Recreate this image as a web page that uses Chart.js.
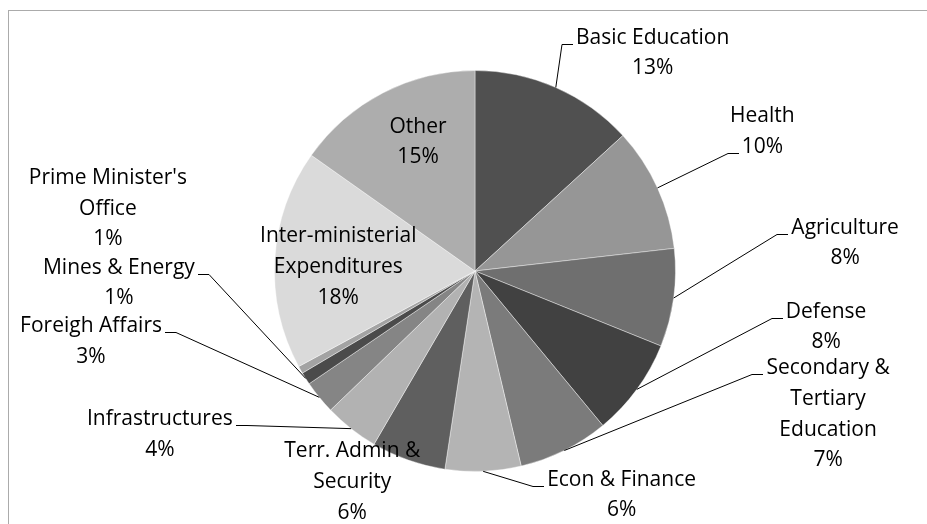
<!DOCTYPE html>
<html lang="en">
<head>
    <meta charset="UTF-8">
    <meta name="viewport" content="width=device-width, initial-scale=1.0">
    <title>Budget by Ministry</title>
    <style>
        body {
            margin: 0;
            padding: 0;
            background-color: #fff;
        }
        .chart-box {
            position: relative;
            width: 927px;
            height: 524px;
        }
    </style>
    <script src="https://cdn.jsdelivr.net/npm/chart.js"></script>
</head>
<body>
    <div class="chart-box">
        <canvas id="pie"></canvas>
    </div>
    <script>
        // slices go clockwise from 12 o'clock
        const categories = [
            'Basic Education', 'Health', 'Agriculture', 'Defense',
            ['Secondary &', 'Tertiary', 'Education'], 'Econ & Finance',
            ['Terr. Admin &', 'Security'], 'Infrastructures', 'Foreigh Affairs',
            'Mines & Energy', ["Prime Minister's", 'Office'],
            ['Inter-ministerial', 'Expenditures'], 'Other'
        ];
        const shares = [13.2, 10.0, 7.9, 7.9, 7.3, 6.1, 6.0, 4.4, 2.7, 1.0, 0.6, 17.7, 15.2];
        const sliceColors = [
            '#505050', '#969696', '#6f6f6f', '#414141', '#7b7b7b', '#b4b4b4',
            '#5f5f5f', '#b2b2b2', '#858585', '#4b4b4b', '#a3a3a3', '#dadada', '#adadad'
        ];

        // where each label sits, in pie radii from the centre:
        // [x, y, draw leader line, which text line the leader joins]
        const labelPlacement = [
            [0.886, -1.087, true, 0],
            [1.433, -0.697, true, 1],
            [1.846, -0.139, true, 0],
            [1.751, 0.279, true, 0],
            [1.761, 0.715, true, 0],
            [0.731, 1.117, true, 0],
            [-0.612, 1.052, false, 0],
            [-1.572, 0.816, true, 0],
            [-1.915, 0.351, true, 0],
            [-1.776, 0.060, true, 0],
            [-1.831, -0.311, false, 0],
            [-0.682, -0.020, false, 0],
            [-0.284, -0.643, false, 0]
        ];

        const LINE_H = 30.7;

        const pieLabels = {
            id: 'pieLabels',
            beforeDraw(chart) {
                // light frame round the plot
                const ctx = chart.ctx;
                ctx.save();
                ctx.strokeStyle = '#ababab';
                ctx.lineWidth = 1;
                ctx.strokeRect(8.5, 10.5, chart.width + 20, chart.height + 20);
                ctx.restore();
            },
            afterDatasetsDraw(chart) {
                const ctx = chart.ctx;
                const meta = chart.getDatasetMeta(0);
                const total = shares.reduce((a, b) => a + b, 0);
                ctx.save();
                ctx.font = '21px "Open Sans"';
                ctx.fillStyle = '#000';
                ctx.strokeStyle = '#000';
                ctx.lineWidth = 1;
                ctx.textAlign = 'center';
                ctx.textBaseline = 'middle';
                meta.data.forEach((arc, i) => {
                    const { x, y, startAngle, endAngle, outerRadius } =
                        arc.getProps(['x', 'y', 'startAngle', 'endAngle', 'outerRadius'], true);
                    const name = categories[i];
                    const lines = Array.isArray(name) ? name.slice() : [name];
                    lines.push(Math.round(shares[i] / total * 100) + '%');

                    const [fx, fy, leader, joinLine] = labelPlacement[i];
                    const cx = x + fx * outerRadius;
                    const cy = y + fy * outerRadius;
                    const top = cy - (lines.length - 1) * LINE_H / 2;
                    lines.forEach((t, k) => ctx.fillText(t, cx, top + k * LINE_H));

                    if (leader) {
                        const mid = (startAngle + endAngle) / 2;
                        const ex = x + Math.cos(mid) * outerRadius;
                        const ey = y + Math.sin(mid) * outerRadius;
                        const dir = cx > x ? -1 : 1;
                        const w = ctx.measureText(lines[joinLine]).width;
                        const tx = Math.round(cx + dir * (w / 2 + 3));
                        const ty = Math.round(top + joinLine * LINE_H + 6) + 0.5;
                        ctx.beginPath();
                        ctx.moveTo(tx, ty);
                        ctx.lineTo(tx + dir * 11, ty);
                        ctx.lineTo(ex, ey);
                        ctx.stroke();
                    }
                });
                ctx.restore();
            }
        };

        new Chart(document.getElementById('pie'), {
            type: 'pie',
            data: {
                labels: categories,
                datasets: [{
                    data: shares,
                    backgroundColor: sliceColors,
                    borderColor: 'rgba(255, 255, 255, 0.4)',
                    borderWidth: 1,
                    hoverOffset: 0
                }]
            },
            options: {
                responsive: true,
                maintainAspectRatio: false,
                animation: false,
                layout: {
                    padding: { top: 70, bottom: 52, left: 274, right: 251 }
                },
                plugins: {
                    legend: { display: false },
                    tooltip: { enabled: false }
                }
            },
            plugins: [pieLabels]
        });
    </script>
</body>
</html>
